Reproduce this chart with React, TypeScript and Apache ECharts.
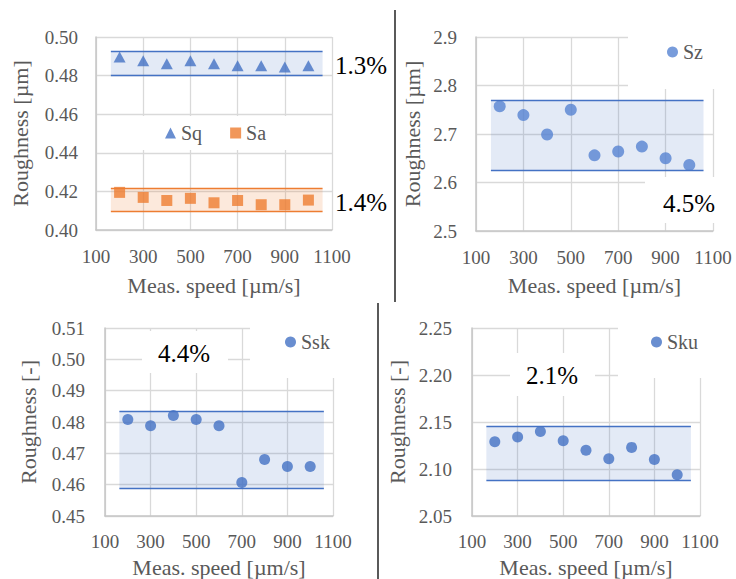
import React, { useEffect, useRef } from 'react';
import * as echarts from 'echarts';

// ---- data ----
const speeds = [200, 300, 400, 500, 600, 700, 800, 900, 1000];
const xTicks = [100, 300, 500, 700, 900, 1100];
const sqValues = [0.4896, 0.4877, 0.4861, 0.4877, 0.4861, 0.4851, 0.4851, 0.4844, 0.4851];
const saValues = [0.4195, 0.4169, 0.4153, 0.4164, 0.4141, 0.4153, 0.4131, 0.4131, 0.4155];
const szValues = [2.757, 2.739, 2.699, 2.75, 2.656, 2.664, 2.674, 2.65, 2.636];
const sskValues = [0.4808, 0.4788, 0.4821, 0.4808, 0.4788, 0.4607, 0.468, 0.4658, 0.4658];
const skuValues = [2.129, 2.134, 2.14, 2.13, 2.12, 2.111, 2.123, 2.11, 2.094];
const bandX = [163, 1060];
const sqBand = [0.4802, 0.4925];
const saBand = [0.4095, 0.4215];
const szBand = [2.625, 2.769];
const sskBand = [0.4589, 0.4833];
const skuBand = [2.088, 2.145];
const pctLabels = ['1.3%', '1.4%', '4.5%', '4.4%', '2.1%'];

const FONT = 'Liberation Serif, Times New Roman, serif';
const GRAY = '#595959';
const GRID = '#d9d9d9';
const AXIS = '#c6c6c6';
const BLUE = '#4472C4';
const ORANGE = '#ED7D31';

function pts(vals: number[]) {
  return speeds.map((s, i) => [s, vals[i]]);
}

function band(range: number[], color: string, fill: string) {
  return {
    markArea: {
      silent: true,
      itemStyle: { color: fill },
      data: [[{ xAxis: bandX[0], yAxis: range[0] }, { xAxis: bandX[1], yAxis: range[1] }]],
    },
    markLine: {
      silent: true,
      symbol: 'none',
      label: { show: false },
      lineStyle: { color, width: 1.3, type: 'solid' },
      data: [
        [{ coord: [bandX[0], range[0]] }, { coord: [bandX[1], range[0]] }],
        [{ coord: [bandX[0], range[1]] }, { coord: [bandX[1], range[1]] }],
      ],
    },
  };
}

function xAxis(gi: number, nameGap: number, margin: number) {
  return {
    type: 'value',
    gridIndex: gi,
    min: 100,
    max: 1100,
    name: 'Meas. speed [µm/s]',
    nameLocation: 'middle',
    nameGap,
    nameTextStyle: { fontFamily: FONT, fontSize: 22, color: GRAY },
    axisLine: { show: true, onZero: false, lineStyle: { color: AXIS, width: 1.5 } },
    axisTick: { show: false, customValues: xTicks },
    axisLabel: {
      customValues: xTicks,
      fontFamily: FONT,
      fontSize: 19,
      color: GRAY,
      margin,
      formatter: (v: number) => String(Math.round(v)),
    },
    splitLine: { show: true, lineStyle: { color: GRID, width: 1.3 } },
  };
}

function yAxis(gi: number, min: number, max: number, interval: number, dec: number, name: string, nameGap: number, margin: number) {
  return {
    type: 'value',
    gridIndex: gi,
    min,
    max,
    interval,
    name,
    nameLocation: 'middle',
    nameGap,
    nameTextStyle: { fontFamily: FONT, fontSize: 22, color: GRAY },
    axisLine: { show: true, onZero: false, lineStyle: { color: AXIS, width: 1.5 } },
    axisTick: { show: false },
    axisLabel: {
      fontFamily: FONT,
      fontSize: 19,
      color: GRAY,
      margin,
      formatter: (v: number) => v.toFixed(dec),
    },
    splitLine: { show: true, lineStyle: { color: GRID, width: 1.3 } },
  };
}

function legend(items: any[], left: number, top: number) {
  return {
    data: items,
    left,
    top,
    orient: 'horizontal',
    itemWidth: 11,
    itemHeight: 11,
    itemGap: 28,
    padding: 0,
    selectedMode: false,
    textStyle: { fontFamily: FONT, fontSize: 20, color: GRAY, lineHeight: 20 },
  };
}

function whiteRect(x: number, y: number, w: number, h: number) {
  return { type: 'rect', z: 3, shape: { x, y, width: w, height: h }, style: { fill: '#ffffff' } };
}

function pctText(text: string, x: number, y: number) {
  return {
    type: 'text',
    z: 5,
    x,
    y,
    style: {
      text,
      fill: '#000000',
      fontFamily: FONT,
      fontSize: 25,
      align: 'center',
      verticalAlign: 'middle',
    },
  };
}

export default function App() {
  const ref = useRef<HTMLDivElement>(null);
  useEffect(() => {
    if (!ref.current) return;
    const chart = echarts.init(ref.current, null, { renderer: 'svg' });
    const option: any = {
      animation: false,
      backgroundColor: '#ffffff',
      grid: [
        { left: 96, top: 37, width: 236, height: 193 },
        { left: 476, top: 37, width: 237, height: 194 },
        { left: 105, top: 328, width: 228, height: 188 },
        { left: 472, top: 328, width: 228, height: 188 },
      ],
      xAxis: [xAxis(0, 44, 17), xAxis(1, 43, 17), xAxis(2, 40, 16), xAxis(3, 40, 16)],
      yAxis: [
        yAxis(0, 0.4, 0.5, 0.02, 2, 'Roughness [µm]', 65, 18),
        yAxis(1, 2.5, 2.9, 0.1, 1, 'Roughness [µm]', 53, 19),
        yAxis(2, 0.45, 0.51, 0.01, 2, 'Roughness [-]', 66, 20),
        yAxis(3, 2.05, 2.25, 0.05, 2, 'Roughness [-]', 64, 20),
      ],
      legend: [
        legend([{ name: 'Sq', icon: 'triangle' }, { name: 'Sa', icon: 'rect' }], 165, 123),
        legend([{ name: 'Sz', icon: 'circle' }], 667, 42),
        legend([{ name: 'Ssk', icon: 'circle' }], 285, 332),
        legend([{ name: 'Sku', icon: 'circle' }], 651, 332),
      ],
      graphic: [
        { type: 'line', z: 5, shape: { x1: 395, y1: 10, x2: 395, y2: 302 }, style: { stroke: '#000', lineWidth: 1.3 } },
        { type: 'line', z: 5, shape: { x1: 378, y1: 303, x2: 378, y2: 579 }, style: { stroke: '#000', lineWidth: 1.3 } },
        whiteRect(133, 116, 160, 34),
        whiteRect(628, 15, 100, 74),
        whiteRect(645, 177, 85, 46),
        whiteRect(142, 331, 86, 42),
        whiteRect(250, 315, 95, 63),
        whiteRect(510, 353, 85, 43),
        whiteRect(618, 315, 110, 63),
        pctText(pctLabels[0], 361, 65),
        pctText(pctLabels[1], 361, 202),
        pctText(pctLabels[2], 689, 203),
        pctText(pctLabels[3], 184, 353),
        pctText(pctLabels[4], 552, 375),
      ],
      series: [
        {
          name: 'Sq', type: 'scatter', xAxisIndex: 0, yAxisIndex: 0, data: pts(sqValues),
          symbol: 'triangle', symbolSize: [12, 11], itemStyle: { color: BLUE },
          ...band(sqBand, BLUE, 'rgba(68,114,196,0.15)'),
        },
        {
          name: 'Sa', type: 'scatter', xAxisIndex: 0, yAxisIndex: 0, data: pts(saValues),
          symbol: 'rect', symbolSize: 11, itemStyle: { color: ORANGE },
          ...band(saBand, ORANGE, 'rgba(237,125,49,0.17)'),
        },
        {
          name: 'Sz', type: 'scatter', xAxisIndex: 1, yAxisIndex: 1, data: pts(szValues),
          symbol: 'circle', symbolSize: 12, itemStyle: { color: '#5683d2' },
          ...band(szBand, BLUE, 'rgba(68,114,196,0.15)'),
        },
        {
          name: 'Ssk', type: 'scatter', xAxisIndex: 2, yAxisIndex: 2, data: pts(sskValues),
          symbol: 'circle', symbolSize: 11, itemStyle: { color: BLUE },
          ...band(sskBand, BLUE, 'rgba(68,114,196,0.15)'),
        },
        {
          name: 'Sku', type: 'scatter', xAxisIndex: 3, yAxisIndex: 3, data: pts(skuValues),
          symbol: 'circle', symbolSize: 11, itemStyle: { color: BLUE },
          ...band(skuBand, BLUE, 'rgba(68,114,196,0.15)'),
        },
      ],
    };
    chart.setOption(option);
    return () => chart.dispose();
  }, []);
  return <div ref={ref} style={{ position: 'absolute', left: 0, top: 0, width: 736, height: 579 }} />;
}
